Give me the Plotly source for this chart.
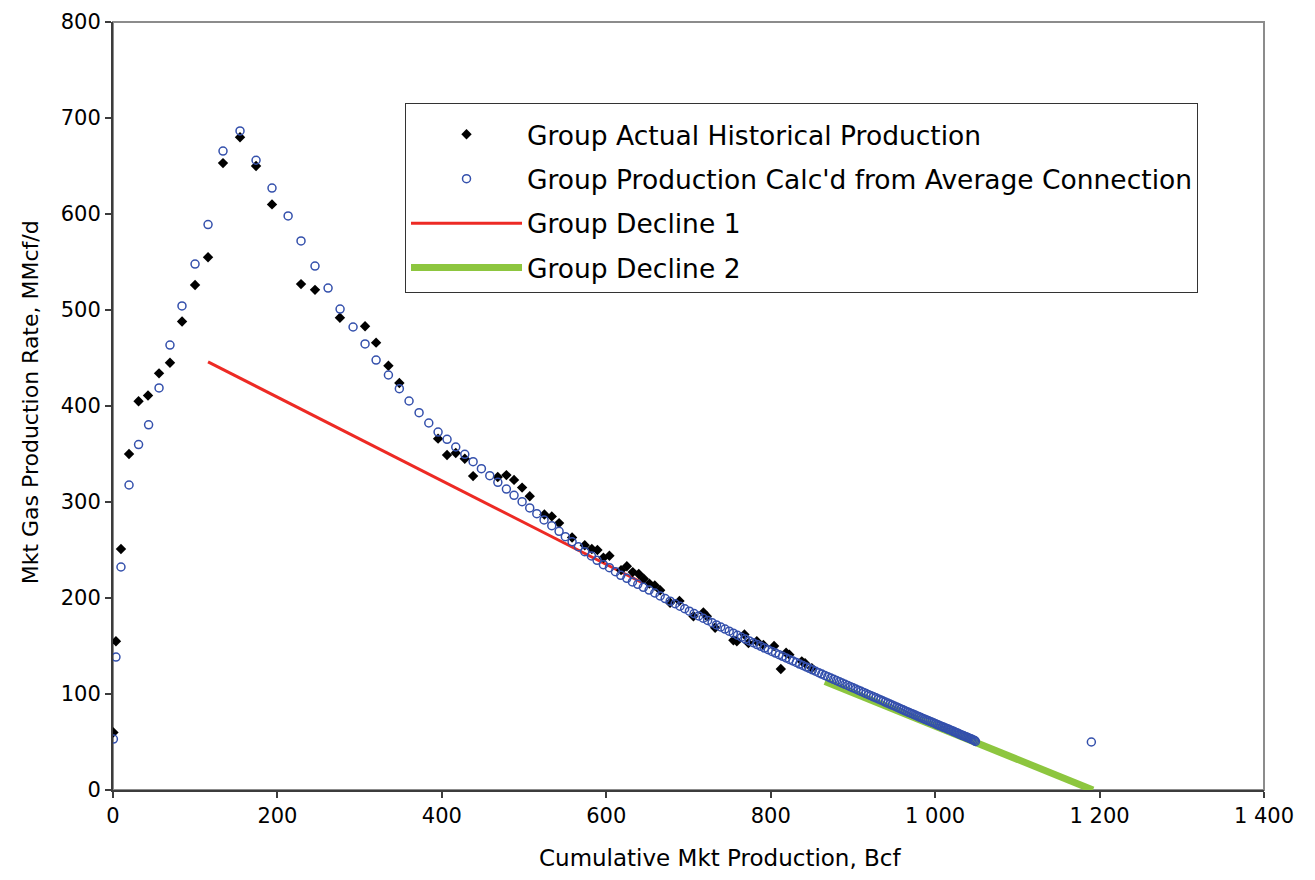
import plotly.graph_objects as go

# ---------------- data ----------------
actual_x = [0.5, 3.6, 9.7, 19.5, 31.1, 42.6, 56.0, 69.3, 84.0, 99.8,
            115.6, 133.8, 154.5, 174.0, 193.4, 228.7, 245.7, 276.0, 306.6, 320.0,
            335.0, 348.3, 395.4, 406.3, 416.9, 427.9, 438.0, 468.0, 478.5, 487.8,
            497.6, 506.9, 524.7, 533.7, 542.6, 558.4, 573.8, 582.4, 589.2, 596.5,
            603.8, 618.0, 625.0, 632.2, 639.5, 645.6, 652.4, 659.0, 665.5, 677.6,
            689.0, 706.0, 718.1, 722.3, 732.4, 754.6, 758.8, 768.0, 772.9, 783.1,
            791.1, 804.1, 812.3, 818.7, 822.7, 837.8, 841.8, 850.0]
actual_y = [60, 155, 251, 350, 405, 411, 434, 445, 488, 526,
            555, 653, 680, 650, 610, 527, 521, 492, 483, 466,
            442, 424, 366, 349, 351, 345, 327, 326, 328, 323,
            315, 306, 287, 285, 278, 263, 255, 251, 250, 242,
            244, 229, 233, 227, 225, 220, 215, 213, 208, 195,
            197, 181, 185, 181, 169, 156, 155, 162, 153, 155,
            151, 150, 126, 143, 141, 134, 132, 127]

calc_x = [0.5, 3.6, 9.7, 19.5, 31.1, 43.3, 56.0, 69.3, 83.9, 99.8,
          115.6, 133.8, 154.5, 174.0, 193.4, 213.0, 228.7, 245.7, 261.6, 276.2,
          292.0, 306.6, 320.0, 335.0, 348.3, 360.1, 372.3, 384.1, 395.4, 406.3,
          416.9, 427.9, 438.0, 448.1, 458.3, 468.1, 478.5, 487.8, 497.6, 506.9,
          515.5, 524.3, 533.7, 542.6, 550.2, 558.4, 566.1, 573.8, 581.9, 588.8,
          596.5, 603.8, 611.1, 617.6, 625.0, 631.8, 638.3, 645.1, 652.1, 659.0,
          665.5, 671.6, 677.7, 683.7, 689.6, 695.4, 701.1, 706.8, 712.4, 717.9,
          723.3, 728.7, 734.0, 739.2, 744.4, 749.5, 754.5, 759.5, 764.4, 769.2,
          774.0, 778.7, 783.4, 788.0, 792.5, 797.0, 801.5, 805.9, 810.2, 814.5,
          818.7, 822.9, 827.0, 831.1, 835.1, 839.1, 843.1, 847.0, 850.8, 854.6,
          858.4, 862.1, 865.8, 869.4, 873.0, 876.5, 880.0, 883.5, 886.9, 890.3,
          893.6, 896.9, 900.2, 903.4, 906.6, 909.8, 912.9, 916.0, 919.0, 922.0,
          925.0, 928.0, 930.9, 933.8, 936.6, 939.4, 942.2, 945.0, 947.7, 950.4,
          953.1, 955.7, 958.3, 960.9, 963.4, 965.9, 968.4, 970.9, 973.3, 975.7,
          978.1, 980.4, 982.7, 985.0, 987.3, 989.5, 991.7, 993.9, 996.1, 998.3,
          1000.4, 1002.5, 1004.6, 1006.6, 1008.6, 1010.6, 1012.6, 1014.6, 1016.5, 1018.4,
          1020.3, 1022.2, 1024.1, 1025.9, 1027.7, 1029.5, 1031.3, 1033.0, 1034.7, 1036.4,
          1038.1, 1039.8, 1041.5, 1043.1, 1044.7, 1046.3, 1047.9, 1049.0, 1190.0]
calc_y = [53.1, 138.5, 232.3, 317.7, 359.8, 380.4, 418.8, 463.5, 504.2, 547.9,
          589.0, 665.6, 686.5, 656.0, 627.0, 598.0, 571.9, 545.8, 522.9, 501.0,
          482.3, 464.6, 447.9, 432.3, 418.0, 405.2, 393.0, 382.3, 372.9, 365.3,
          357.3, 349.7, 342.0, 334.7, 327.4, 320.5, 313.5, 307.0, 300.3, 293.8,
          287.8, 281.3, 275.3, 269.5, 263.9, 258.6, 253.4, 248.2, 243.8, 239.3,
          234.7, 231.6, 227.4, 223.6, 220.5, 216.7, 214.3, 211.1, 208.3, 205.2,
          202.1, 199.4, 196.7, 194.0, 191.4, 188.8, 186.3, 183.8, 181.3, 178.9,
          176.6, 174.3, 172.0, 169.8, 167.6, 165.4, 163.3, 161.2, 159.1, 157.2,
          155.3, 153.4, 151.5, 149.7, 147.9, 146.1, 144.3, 142.6, 140.9, 139.2,
          137.6, 136.0, 134.4, 132.8, 131.2, 129.7, 128.2, 126.7, 125.2, 123.7,
          122.2, 120.8, 119.4, 118.0, 116.6, 115.3, 114.0, 112.7, 111.4, 110.1,
          108.9, 107.6, 106.4, 105.2, 104.0, 102.8, 101.6, 100.4, 99.3, 98.2,
          97.1, 96.0, 94.9, 93.8, 92.7, 91.6, 90.5, 89.5, 88.5, 87.5,
          86.5, 85.5, 84.5, 83.5, 82.5, 81.6, 80.7, 79.8, 78.9, 78.0,
          77.1, 76.2, 75.4, 74.6, 73.8, 73.0, 72.2, 71.4, 70.6, 69.8,
          69.0, 68.2, 67.4, 66.7, 66.0, 65.3, 64.6, 63.9, 63.2, 62.5,
          61.8, 61.1, 60.4, 59.7, 59.0, 58.3, 57.6, 57.0, 56.4, 55.8,
          55.2, 54.6, 54.0, 53.4, 52.8, 52.2, 51.6, 50.6, 50.0]

decline1_x = [115.6, 645.0]
decline1_y = [446.0, 215.4]
decline2_x = [866.0, 1192.0]
decline2_y = [113.1, 0.0]

x_ticks = [0, 200, 400, 600, 800, 1000, 1200, 1400]
y_ticks = [0, 100, 200, 300, 400, 500, 600, 700, 800]

FONT = "DejaVu Sans"
AXIS = "#3c3c3c"

fig = go.Figure()

fig.add_trace(go.Scatter(
    x=decline1_x, y=decline1_y, mode="lines", name="Group Decline 1",
    line=dict(color="#ED2A24", width=3), legendrank=3, legendgroup="d1"))
fig.add_trace(go.Scatter(
    x=decline2_x, y=decline2_y, mode="lines", name="Group Decline 2",
    line=dict(color="#8DC63F", width=7), legendrank=4, legendgroup="d2"))
fig.add_trace(go.Scatter(
    x=actual_x, y=actual_y, mode="markers", name="Group Actual Historical Production",
    marker=dict(symbol="diamond", size=8, color="#000000"), legendrank=1, legendgroup="a"))
fig.add_trace(go.Scatter(
    x=calc_x, y=calc_y, mode="markers",
    name="Group Production Calc'd from Average Connection",
    marker=dict(symbol="circle-open", size=8, color="#3450AC", line=dict(width=1.5)),
    legendrank=2, legendgroup="c"))

# page body has an 8 px margin, so the figure is 16 px smaller and margins shifted
fig.update_layout(
    width=1299, height=864,
    margin=dict(l=105, r=43, t=14, b=82),
    paper_bgcolor="white", plot_bgcolor="white",
    separators=". ",
    font=dict(family=FONT, size=21, color="#000"),
    showlegend=True,
    legend=dict(
        x=0.2537, y=0.8945, xanchor="left", yanchor="top",
        bgcolor="white", bordercolor="#333", borderwidth=1,
        font=dict(family=FONT, size=26.5, color="#000"),
        title=dict(text=" ", font=dict(size=5)),
        tracegroupgap=7, itemwidth=111,
    ),
    shapes=[dict(type="rect", xref="paper", yref="paper", x0=0, y0=0, x1=1, y1=1,
                 line=dict(color="#8c8c8c", width=2), layer="below")],
    annotations=[
        dict(text="Cumulative Mkt Production, Bcf", xref="paper", yref="paper",
             x=0.527, y=-0.0885, xanchor="center", yanchor="middle", showarrow=False,
             font=dict(family=FONT, size=23, color="#000")),
        dict(text="Mkt Gas Production Rate, MMcf/d", xref="paper", yref="paper",
             x=-0.072, y=0.505, xanchor="center", yanchor="middle", showarrow=False,
             textangle=-90, font=dict(family=FONT, size=22, color="#000")),
    ],
)
fig.update_xaxes(range=[0, 1400], tickvals=x_ticks, tickformat=",d",
                 ticks="outside", ticklen=6, tickcolor=AXIS, tickwidth=1.5,
                 showline=True, linecolor=AXIS, linewidth=2,
                 showgrid=False, zeroline=False, automargin=False)
fig.update_yaxes(range=[0, 800], tickvals=y_ticks,
                 ticks="outside", ticklen=6, tickcolor=AXIS, tickwidth=1.5,
                 showline=True, linecolor=AXIS, linewidth=2,
                 showgrid=False, zeroline=False, automargin=False)

fig.write_html("out.html")
